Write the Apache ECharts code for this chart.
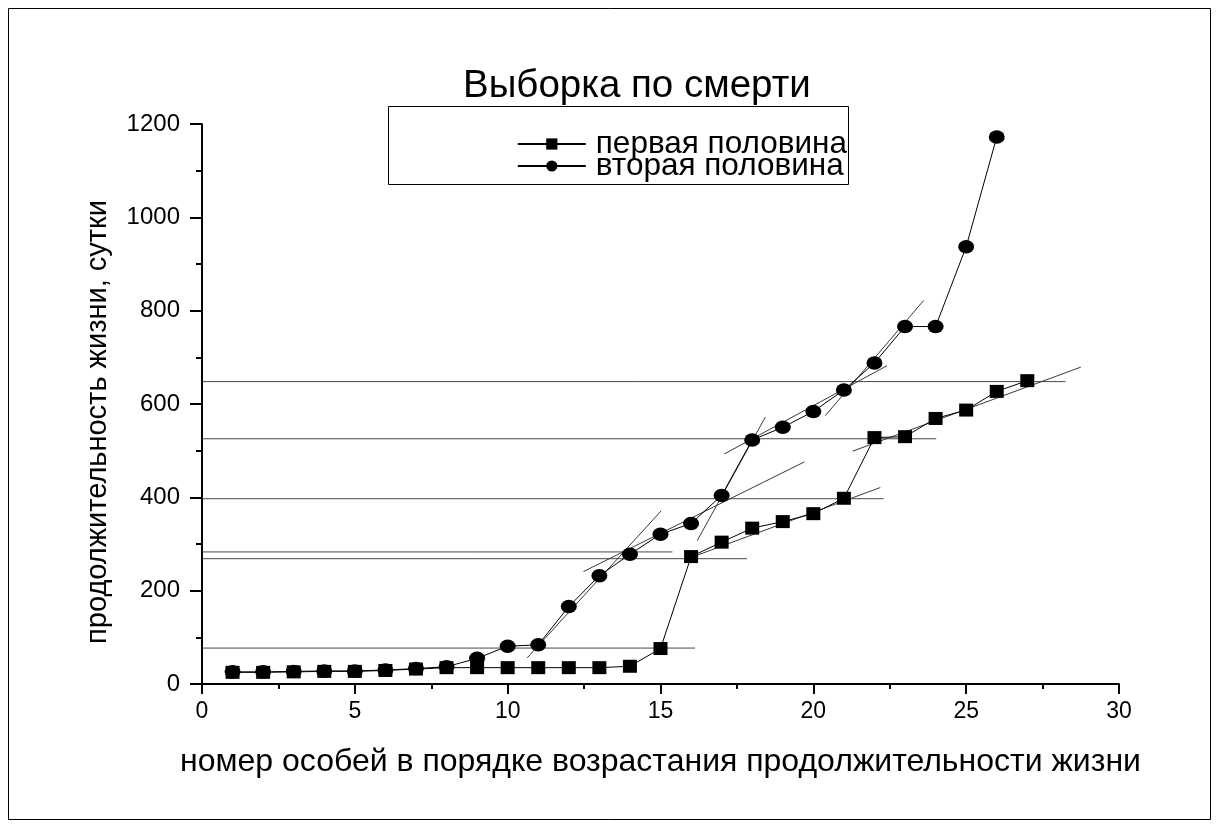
<!DOCTYPE html>
<html>
<head>
<meta charset="utf-8">
<script src="https://cdn.jsdelivr.net/npm/echarts@6/dist/echarts.min.js"></script>
<style>
  html, body { margin: 0; padding: 0; background: #fff; }
  #chart { width: 1219px; height: 827px; }
</style>
</head>
<body>
<div id="chart"></div>
<script>
// Individual number (rank by lifespan) for each half of the sample
const indexFirst  = [1, 2, 3, 4, 5, 6, 7, 8, 9, 10, 11, 12, 13, 14, 15, 16, 17, 18, 19, 20, 21, 22, 23, 24, 25, 26, 27];
const indexSecond = [1, 2, 3, 4, 5, 6, 7, 8, 9, 10, 11, 12, 13, 14, 15, 16, 17, 18, 19, 20, 21, 22, 23, 24, 25, 26];

// Lifespan, days
const lifeFirst  = [25, 25, 26, 27, 27, 29, 32, 35, 35, 35, 35, 35, 35, 38, 76, 273, 304, 334, 348, 365, 398, 528, 530, 569, 587, 627, 650];
const lifeSecond = [26, 26, 27, 28, 28, 30, 33, 37, 55, 81, 84, 166, 232, 278, 321, 344, 404, 523, 550, 584, 630, 688, 766, 766, 937, 1172];

// Fitted straight segments over parts of the curves: [x1, y1, x2, y2]
const trendSegments = [
  [10.64, 56, 15.02, 371],
  [12.48, 241, 19.71, 476],
  [16.20, 307, 18.43, 572],
  [17.09, 493, 22.41, 682],
  [20.39, 575, 23.61, 822],
  [15.95, 270, 22.19, 421],
  [21.29, 499, 28.75, 679]
];

// Horizontal level lines: [level, right end x]
const levelLines = [
  [648, 28.25],
  [525.5, 24.02],
  [397, 22.30],
  [283, 15.39],
  [268.5, 17.83],
  [77, 16.13]
];

const xTicks = { min: 0, max: 30, interval: 5 };
const yTicks = { min: 0, max: 1200, interval: 200 };

const FONT = "'Liberation Sans', Arial, sans-serif";

const guideSeries = [];
trendSegments.forEach(function (s) {
  guideSeries.push({
    type: 'line', silent: true, symbol: 'none', z: 1,
    lineStyle: { color: '#222', width: 0.9 },
    data: [[s[0], s[1]], [s[2], s[3]]]
  });
});
levelLines.forEach(function (l) {
  guideSeries.push({
    type: 'line', silent: true, symbol: 'none', z: 1,
    lineStyle: { color: '#333', width: 0.9 },
    data: [[0, l[0]], [l[1], l[0]]]
  });
});

const chart = echarts.init(document.getElementById('chart'), null, { renderer: 'canvas' });

chart.setOption({
  backgroundColor: '#fff',
  animation: false,
  title: {
    text: 'Выборка по смерти',
    left: 463, top: 67, padding: 0,
    textStyle: { fontFamily: FONT, fontSize: 38.5, fontWeight: 'normal', color: '#000' }
  },
  legend: {
    orient: 'vertical',
    right: 372, top: 128,
    padding: 0,
    itemGap: -10,
    itemWidth: 68, itemHeight: 14,
    textStyle: { fontFamily: FONT, fontSize: 31.5, color: '#000', lineHeight: 22, padding: [0, 0, 0, 5] },
    data: ['первая половина', 'вторая половина']
  },
  graphic: [
    { type: 'rect', shape: { x: 8.5, y: 8.5, width: 1202, height: 811 }, style: { fill: null, stroke: '#000', lineWidth: 1 } },
    { type: 'rect', shape: { x: 388.5, y: 106.5, width: 460, height: 78 }, style: { fill: null, stroke: '#000', lineWidth: 1 }, z: 5 }
  ],
  grid: { left: 202, right: 100, top: 124, bottom: 143, containLabel: false },
  xAxis: {
    type: 'value',
    min: xTicks.min, max: xTicks.max, interval: xTicks.interval,
    name: 'номер особей в порядке возрастания продолжительности жизни',
    nameLocation: 'middle', nameGap: 62,
    nameTextStyle: { fontFamily: FONT, fontSize: 32, color: '#000' },
    axisLine: { lineStyle: { color: '#000', width: 2 } },
    axisTick: { show: true, length: 10, inside: false, lineStyle: { color: '#000', width: 2 } },
    minorTick: { show: true, splitNumber: 2, length: 5, lineStyle: { color: '#000', width: 2 } },
    axisLabel: { fontFamily: FONT, fontSize: 23, color: '#000', margin: 16 },
    splitLine: { show: false }
  },
  yAxis: {
    type: 'value',
    min: yTicks.min, max: yTicks.max, interval: yTicks.interval,
    name: 'продолжительность жизни, сутки',
    nameLocation: 'middle', nameGap: 90,
    nameTextStyle: { fontFamily: FONT, fontSize: 29, color: '#000', padding: [0, 36, 0, 0] },
    axisLine: { show: true, lineStyle: { color: '#000', width: 2 } },
    axisTick: { show: true, length: 12, inside: false, lineStyle: { color: '#000', width: 2 } },
    minorTick: { show: true, splitNumber: 2, length: 6, lineStyle: { color: '#000', width: 2 } },
    axisLabel: { fontFamily: FONT, fontSize: 24, color: '#000', margin: 22, formatter: function (v) { return String(v); } },
    splitLine: { show: false }
  },
  series: guideSeries.concat([
    {
      name: 'первая половина',
      type: 'line', z: 3,
      symbol: 'rect', symbolSize: [14, 13],
      itemStyle: { color: '#000' },
      lineStyle: { color: '#000', width: 1 },
      data: indexFirst.map(function (x, i) { return [x, lifeFirst[i]]; })
    },
    {
      name: 'вторая половина',
      type: 'line', z: 4,
      symbol: 'circle', symbolSize: [16, 13.5],
      itemStyle: { color: '#000' },
      lineStyle: { color: '#000', width: 1 },
      data: indexSecond.map(function (x, i) { return [x, lifeSecond[i]]; })
    }
  ])
});
</script>
</body>
</html>
